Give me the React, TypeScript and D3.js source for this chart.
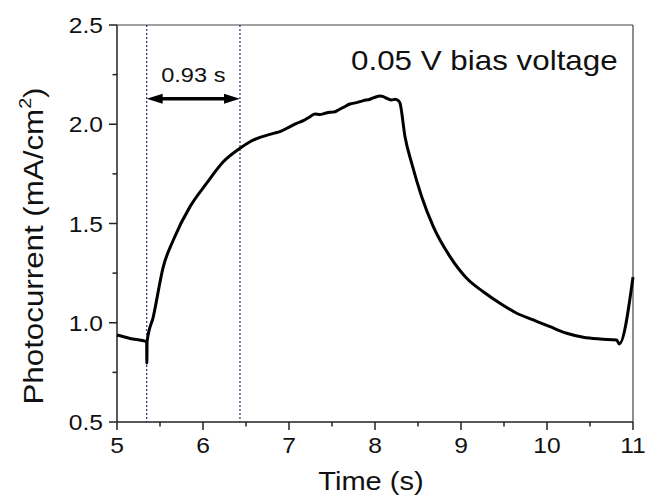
import React from "react";
import * as d3 from "d3";

const timeS = [5.0, 5.151, 5.345, 5.347, 5.35, 5.422, 5.538, 5.655, 5.849, 6.043, 6.236, 6.43, 6.547, 6.817, 6.895, 7.012, 7.089, 7.167, 7.244, 7.302, 7.36, 7.419, 7.477, 7.535, 7.574, 7.632, 7.709, 7.787, 7.864, 7.942, 8.0, 8.058, 8.097, 8.136, 8.194, 8.233, 8.271, 8.291, 8.349, 8.427, 8.543, 8.678, 8.872, 9.066, 9.259, 9.453, 9.648, 9.841, 10.035, 10.229, 10.422, 10.616, 10.81, 10.84, 11.0];
const current = [0.938, 0.921, 0.905, 0.797, 0.905, 1.03, 1.282, 1.417, 1.585, 1.703, 1.811, 1.879, 1.912, 1.954, 1.963, 1.988, 2.005, 2.018, 2.038, 2.052, 2.049, 2.055, 2.06, 2.063, 2.072, 2.085, 2.102, 2.109, 2.119, 2.126, 2.136, 2.142, 2.139, 2.131, 2.122, 2.126, 2.119, 2.106, 1.937, 1.803, 1.635, 1.484, 1.333, 1.224, 1.156, 1.098, 1.048, 1.014, 0.98, 0.947, 0.927, 0.918, 0.913, 0.893, 1.23];

const xMajor = [5, 6, 7, 8, 9, 10, 11];
const xMinor = [5.5, 6.5, 7.5, 8.5, 9.5, 10.5];
const yMajor = [0.5, 1.0, 1.5, 2.0, 2.5];
const yMinor = [0.75, 1.25, 1.75, 2.25];
const markerTimes = [5.345, 6.43];
const arrowLevel = 2.128;
const intervalLabel = "0.93 s";
const annotation = "0.05 V bias voltage";

const FONT = "'Liberation Sans', Arial, Helvetica, sans-serif";

export default function App() {
  const x = d3.scaleLinear().domain([5, 11]).range([117, 633]);
  const y = d3.scaleLinear().domain([0.5, 2.5]).range([422, 25]);
  const line = d3
    .line<number>()
    .x((_, i) => x(timeS[i]))
    .y((d) => y(d))
    .curve(d3.curveMonotoneX);

  const x0 = x(markerTimes[0]);
  const x1 = x(markerTimes[1]);
  const ay = y(arrowLevel);
  const headL = 16;
  const headH = 5;

  return (
    <svg
      width={649}
      height={503}
      style={{ position: "absolute", left: 0, top: 0, background: "#fff" }}
      fontFamily={FONT}
    >
      <rect x={0} y={0} width={649} height={503} fill="#fff" />
      <line x1={117} x2={633} y1={25} y2={25} stroke="#444" strokeWidth={1.2} />
      <line x1={633} x2={633} y1={25} y2={422} stroke="#444" strokeWidth={1.2} />
      {markerTimes.map((t, i) => (
        <line key={i} x1={x(t)} x2={x(t)} y1={25} y2={422} stroke="#2b2b80" strokeWidth={1.2} strokeDasharray="2,2" />
      ))}
      <line x1={117} x2={633} y1={422} y2={422} stroke="#222" strokeWidth={1.5} />
      <line x1={117} x2={117} y1={25} y2={422} stroke="#222" strokeWidth={1.5} />
      {xMajor.map((t) => (
        <g key={"xm" + t}>
          <line x1={x(t)} x2={x(t)} y1={422} y2={430} stroke="#222" strokeWidth={1.5} />
          <text transform={`translate(${x(t)},453) scale(1.12,1)`} textAnchor="middle" fontSize={22} fill="#111">
            {t}
          </text>
        </g>
      ))}
      {xMinor.map((t) => (
        <line key={"xn" + t} x1={x(t)} x2={x(t)} y1={422} y2={426.5} stroke="#222" strokeWidth={1.5} />
      ))}
      {yMajor.map((v) => (
        <g key={"ym" + v}>
          <line x1={109} x2={117} y1={y(v)} y2={y(v)} stroke="#222" strokeWidth={1.5} />
          <text transform={`translate(103,${y(v) + 8}) scale(1.12,1)`} textAnchor="end" fontSize={22} fill="#111">
            {v.toFixed(1)}
          </text>
        </g>
      ))}
      {yMinor.map((v) => (
        <line key={"yn" + v} x1={112.5} x2={117} y1={y(v)} y2={y(v)} stroke="#222" strokeWidth={1.5} />
      ))}
      <path d={line(current) || ""} fill="none" stroke="#000" strokeWidth={3} strokeLinejoin="round" />
      <line x1={x0 + headL - 2} x2={x1 - headL + 2} y1={ay} y2={ay} stroke="#000" strokeWidth={3.5} />
      <path d={`M${x0},${ay} L${x0 + headL},${ay - headH} L${x0 + headL},${ay + headH} Z`} fill="#000" />
      <path d={`M${x1},${ay} L${x1 - headL},${ay - headH} L${x1 - headL},${ay + headH} Z`} fill="#000" />
      <text transform={`translate(${(x0 + x1) / 2},82) scale(1.18,1)`} textAnchor="middle" fontSize={20} fill="#111">
        {intervalLabel}
      </text>
      <text transform={`translate(351,70) scale(1.12,1)`} textAnchor="start" fontSize={28} fill="#111">
        {annotation}
      </text>
      <text transform={`translate(371,490) scale(1.14,1)`} textAnchor="middle" fontSize={25.5} fill="#111">
        Time (s)
      </text>
      <text transform={`translate(43,246) rotate(-90) scale(1.16,1)`} textAnchor="middle" fontSize={27} fill="#111">
        Photocurrent (mA/cm
        <tspan fontSize={17} dy={-12}>2</tspan>
        <tspan dy={12}>)</tspan>
      </text>
    </svg>
  );
}
